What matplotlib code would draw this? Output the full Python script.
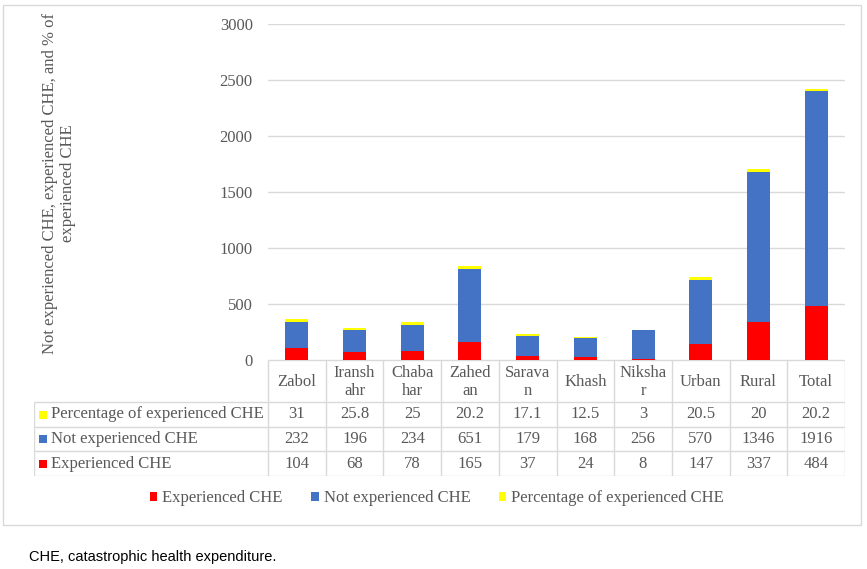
import matplotlib
matplotlib.use("Agg")
import matplotlib.pyplot as plt
from matplotlib.patches import Rectangle, Patch
import numpy as np

categories = ["Zabol", "Iransh\nahr", "Chaba\nhar", "Zahed\nan", "Sarava\nn",
              "Khash", "Niksha\nr", "Urban", "Rural", "Total"]
experienced = [104, 68, 78, 165, 37, 24, 8, 147, 337, 484]
not_experienced = [232, 196, 234, 651, 179, 168, 256, 570, 1346, 1916]
percentage = [31, 25.8, 25, 20.2, 17.1, 12.5, 3, 20.5, 20, 20.2]
pct_labels = ["31", "25.8", "25", "20.2", "17.1", "12.5", "3", "20.5", "20", "20.2"]
yticks = [0, 500, 1000, 1500, 2000, 2500, 3000]

series_names = ["Experienced CHE", "Not experienced CHE", "Percentage of experienced CHE"]
colors = ["#FF0000", "#4472C4", "#FFFF00"]

plt.rcParams['font.family'] = ['Liberation Serif', 'DejaVu Serif']
TXT = "#595959"
GRID = "#d9d9d9"
FS = 12

W, H = 867, 569
def fx(p): return p / W
def fy(p): return 1 - p / H

fig = plt.figure(figsize=(W / 100, H / 100), dpi=100)

# outer border
fig.patches.append(Rectangle((fx(3), fy(525)), fx(861) - fx(3), fy(5) - fy(525),
                             transform=fig.transFigure, fill=False, edgecolor=GRID, lw=1))

PL, PR, PT, PB = 268, 845, 24, 360
ax = fig.add_axes([fx(PL), fy(PB), fx(PR) - fx(PL), fy(PT) - fy(PB)])
x = np.arange(len(categories))
exp = np.array(experienced, float)
nexp = np.array(not_experienced, float)
pct = np.array(percentage, float)
bw = 0.4
ax.bar(x, exp, bw, color=colors[0], zorder=3)
ax.bar(x, nexp, bw, bottom=exp, color=colors[1], zorder=3)
ax.bar(x, pct, bw, bottom=exp + nexp, color=colors[2], zorder=3)
ax.set_xlim(-0.5, len(categories) - 0.5)
ax.set_ylim(0, 3000)
ax.set_yticks(yticks)
ax.set_yticklabels([str(v) for v in yticks], fontsize=FS, color=TXT)
ax.tick_params(axis='y', length=0, pad=11)
ax.set_xticks([])
for s in ax.spines.values():
    s.set_visible(False)
ax.grid(axis='y', color=GRID, lw=1, zorder=0)

# data table
TL = 34
col_w = (PR - PL) / len(categories)
label_w = (PL - TL) / col_w
rows_px = [360, 402, 427, 451, 476]
tax = fig.add_axes([fx(TL), fy(rows_px[-1]), fx(PR) - fx(TL), fy(rows_px[0]) - fy(rows_px[-1])])
left = -0.5 - label_w
right = len(categories) - 0.5
tax.set_xlim(left, right)
tax.set_ylim(rows_px[-1], rows_px[0])
tax.axis('off')
lk = dict(color=GRID, lw=1, solid_capstyle='butt')
for b in np.arange(-0.5, len(categories) + 0.5, 1):
    tax.plot([b, b], [rows_px[0], rows_px[-1]], **lk)
tax.plot([left, left], [rows_px[1], rows_px[-1]], **lk)
tax.plot([-0.5, right], [rows_px[0], rows_px[0]], **lk)
for r in rows_px[1:]:
    tax.plot([left, right], [r, r], **lk)

for i, c in enumerate(categories):
    tax.text(i, (rows_px[0] + rows_px[1]) / 2 + 1, c, ha='center', va='center',
             fontsize=FS, color=TXT, multialignment='center', linespacing=1.15)

table_rows = [
    (series_names[2], colors[2], pct_labels),
    (series_names[1], colors[1], [str(v) for v in not_experienced]),
    (series_names[0], colors[0], [str(v) for v in experienced]),
]
for r, (name, col, vals) in enumerate(table_rows):
    yc = (rows_px[r + 1] + rows_px[r + 2]) / 2
    tax.plot([left + 9 / col_w], [yc], marker='s', ms=5.5, color=col, mew=0, ls='none')
    tax.text(left + 17 / col_w, yc, name, ha='left', va='center', fontsize=FS, color=TXT)
    for i, v in enumerate(vals):
        tax.text(i, yc, v, ha='center', va='center', fontsize=FS, color=TXT)

# legend
handles = [Patch(facecolor=c, edgecolor='none') for c in colors]
fig.legend(handles, series_names, loc='center', bbox_to_anchor=(fx(437), fy(498)),
           ncol=3, frameon=False, fontsize=FS, handlelength=0.45, handleheight=0.45,
           handletextpad=0.3, columnspacing=1.7, labelcolor=TXT)

# y label
fig.text(fx(59), fy(183), "Not experienced CHE, experienced CHE, and % of\nexperienced CHE",
         rotation=90, ha='center', va='center', fontsize=FS, color=TXT,
         multialignment='center', linespacing=1.15)

# caption
fig.text(fx(29), fy(557), "CHE, catastrophic health expenditure.", ha='left', va='center',
         fontsize=10.5, color='black', family=['Liberation Sans', 'DejaVu Sans'])

fig.savefig("out.png", dpi=100)
